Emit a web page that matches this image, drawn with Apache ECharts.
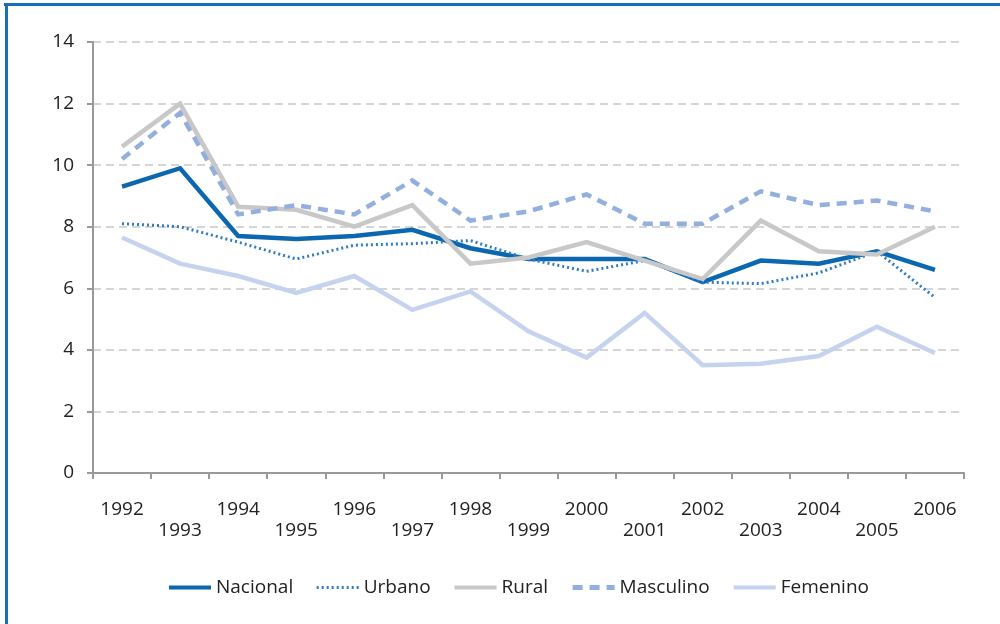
<!DOCTYPE html>
<html>
<head>
<meta charset="utf-8">
<script src="https://cdn.jsdelivr.net/npm/echarts@6/dist/echarts.min.js"></script>
<style>
  html,body{margin:0;padding:0;background:#fff;}
  #wrap{position:relative;width:1000px;height:624px;overflow:hidden;}
  #main{position:absolute;left:0;top:0;width:1000px;height:624px;}
  #topBorder{position:absolute;left:4px;top:3px;width:996px;height:3px;background:#1a6fba;}
  #leftBorder{position:absolute;left:5px;top:3px;width:3px;height:621px;background:#1a6fba;}
</style>
</head>
<body>
<div id="wrap">
  <div id="main"></div>
  <div id="topBorder"></div>
  <div id="leftBorder"></div>
</div>
<script>
const years = ['1992','1993','1994','1995','1996','1997','1998','1999','2000','2001','2002','2003','2004','2005','2006'];
const nacional  = [9.3, 9.9, 7.7, 7.6, 7.7, 7.9, 7.3, 6.95, 6.95, 6.95, 6.2, 6.9, 6.8, 7.2, 6.6];
const urbano    = [8.1, 8.0, 7.5, 6.95, 7.4, 7.45, 7.55, 6.95, 6.55, 6.9, 6.2, 6.15, 6.5, 7.2, 5.7];
const rural     = [10.6, 12.0, 8.65, 8.55, 8.0, 8.7, 6.8, 7.0, 7.5, 6.9, 6.3, 8.2, 7.2, 7.1, 8.0];
const masculino = [10.2, 11.7, 8.4, 8.7, 8.4, 9.5, 8.2, 8.5, 9.05, 8.1, 8.1, 9.15, 8.7, 8.85, 8.5];
const femenino  = [7.65, 6.8, 6.4, 5.85, 6.4, 5.3, 5.9, 4.6, 3.75, 5.2, 3.5, 3.55, 3.8, 4.75, 3.9];

const font = '"Open Sans", sans-serif';

function mkLine(name, data, color, width, type){
    return {
        name: name,
        type: 'line',
        data: data,
        symbol: 'none',
        showSymbol: false,
        animation: false,
        lineStyle: {color: color, width: width, type: type, cap: 'butt', join: 'miter'},
        itemStyle: {color: color}
    };
}

let myChart = echarts.init(document.getElementById('main'));
let option = {
    backgroundColor: '#fff',
    animation: false,
    grid: {left: 93, right: 36, top: 42, bottom: 151},
    legend: {
        bottom: 22,
        left: 162,
        itemWidth: 42,
        itemHeight: 10,
        itemGap: 22,
        itemStyle: {opacity: 0},
        textStyle: {fontFamily: font, fontSize: 19, color: '#222'},
        data: [
            {name: 'Nacional', lineStyle: {width: 4}},
            {name: 'Urbano', lineStyle: {width: 3}},
            {name: 'Rural', lineStyle: {width: 4}},
            {name: 'Masculino', lineStyle: {width: 5}},
            {name: 'Femenino', lineStyle: {width: 4}}
        ]
    },
    xAxis: {
        type: 'category',
        data: years,
        boundaryGap: true,
        axisLine: {lineStyle: {color: '#999', width: 2}},
        axisTick: {show: true, length: 6, lineStyle: {color: '#999', width: 2}},
        axisLabel: {
            interval: 0,
            margin: 26,
            fontFamily: font,
            fontSize: 19,
            lineHeight: 21,
            color: '#222',
            formatter: function(v, i){ return i % 2 ? '\n' + v : v + '\n'; }
        },
        splitLine: {show: false}
    },
    yAxis: {
        type: 'value',
        min: 0, max: 14, interval: 2,
        axisLine: {show: true, lineStyle: {color: '#999', width: 2}},
        axisTick: {show: true, length: 6, lineStyle: {color: '#999', width: 2}},
        axisLabel: {fontFamily: font, fontSize: 19, color: '#222', margin: 19},
        splitLine: {lineStyle: {color: '#c8c8c8', type: [8, 5], width: 1.5}}
    },
    series: [
        mkLine('Nacional', nacional, '#0a67b0', 4.5, 'solid'),
        mkLine('Urbano', urbano, '#2f7cc4', 3, [2, 3]),
        mkLine('Rural', rural, '#c8c8c8', 4.5, 'solid'),
        mkLine('Masculino', masculino, '#93afdd', 4.5, [10, 7]),
        mkLine('Femenino', femenino, '#c6d3ee', 4.5, 'solid')
    ]
};
myChart.setOption(option);
</script>
</body>
</html>
